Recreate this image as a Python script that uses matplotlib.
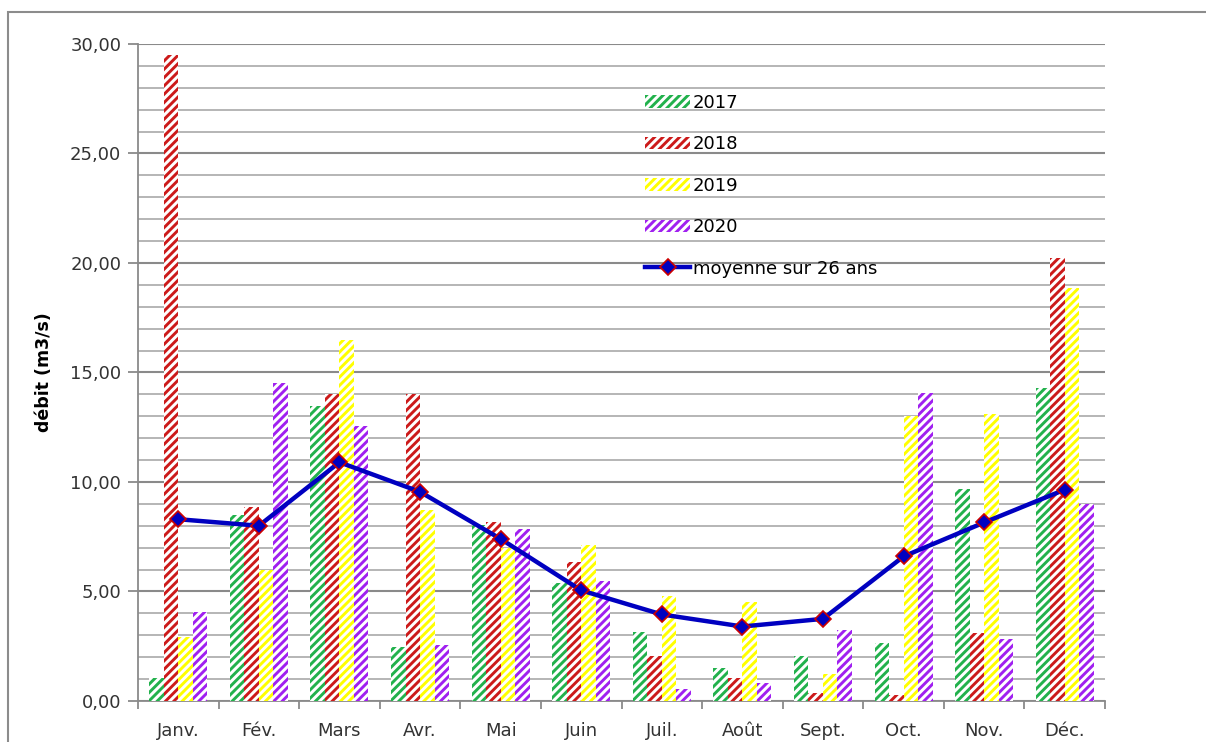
import matplotlib.pyplot as plt
import numpy as np
from matplotlib.patches import Rectangle
from matplotlib.ticker import MultipleLocator, FuncFormatter

plt.rcParams['font.family'] = ['DejaVu Sans']
plt.rcParams['hatch.linewidth'] = 2.1

# Data
months = ['Janv.', 'Fév.', 'Mars', 'Avr.', 'Mai', 'Juin', 'Juil.', 'Août', 'Sept.', 'Oct.', 'Nov.', 'Déc.']
debit_2017 = [1.05, 8.5, 13.45, 2.45, 8.05, 5.4, 3.15, 1.5, 2.05, 2.65, 9.7, 14.3]
debit_2018 = [29.5, 8.85, 14.0, 14.0, 8.15, 6.35, 2.05, 1.05, 0.35, 0.25, 3.1, 20.25]
debit_2019 = [2.9, 6.0, 16.5, 8.7, 7.0, 7.1, 4.8, 4.5, 1.25, 13.0, 13.1, 18.85]
debit_2020 = [4.05, 14.5, 12.55, 2.55, 7.85, 5.5, 0.55, 0.8, 3.25, 14.05, 2.85, 9.0]
moyenne = [8.3, 8.0, 10.9, 9.55, 7.4, 5.05, 3.95, 3.4, 3.75, 6.6, 8.15, 9.65]

series = [('2017', debit_2017, '#22b14c'),
          ('2018', debit_2018, '#cc1a1a'),
          ('2019', debit_2019, '#ffff00'),
          ('2020', debit_2020, '#a020f0')]

fig = plt.figure(figsize=(12.06, 7.42), dpi=100)
ax = fig.add_axes([0.1144, 0.0553, 0.8019, 0.8854])

# outer chart frame
fig.add_artist(Rectangle((8 / 1206, -0.01), 1.2, 1 - 12 / 742 + 0.01, transform=fig.transFigure,
                         fill=False, edgecolor='#8c8c8c', linewidth=1.5))

x = np.arange(len(months))
w = 0.18
handles = []
for i, (name, vals, col) in enumerate(series):
    b = ax.bar(x + (i - 1.5) * w, vals, width=w, facecolor='white', edgecolor=col,
               hatch='////', linewidth=0, label=name, zorder=3)
    handles.append(b)

ln, = ax.plot(x, moyenne, color='#0000c0', linewidth=3.2, marker='D', markersize=8,
              markerfacecolor='#0000c0', markeredgecolor='#cc0000', markeredgewidth=1.2,
              label='moyenne sur 26 ans', zorder=4)
handles.append(ln)

ax.set_xlim(-0.5, 11.5)
ax.set_ylim(0, 30)
ax.yaxis.set_major_locator(MultipleLocator(5))
ax.yaxis.set_minor_locator(MultipleLocator(1))
ax.yaxis.set_major_formatter(FuncFormatter(lambda v, p: f'{v:.2f}'.replace('.', ',')))
ax.grid(which='major', axis='y', color='#8a8a8a', linewidth=1.5, zorder=0)
ax.grid(which='minor', axis='y', color='#b0b0b0', linewidth=1.3, zorder=0)
ax.set_axisbelow(True)

ax.set_xticks(x)
ax.set_xticklabels(months, fontsize=13, color='#333333')
ax.set_xticks(np.arange(-0.5, 12, 1), minor=True)
ax.tick_params(axis='x', which='major', length=0, pad=15)
ax.tick_params(axis='x', which='minor', length=6, color='#8a8a8a', width=1.3)
ax.tick_params(axis='y', which='major', labelsize=13, labelcolor='#333333', length=7,
               color='#8a8a8a', width=1.3, pad=5)
ax.tick_params(axis='y', which='minor', length=0)

for s in ['top', 'right']:
    ax.spines[s].set_visible(False)
for s in ['left', 'bottom']:
    ax.spines[s].set_color('#8a8a8a')
    ax.spines[s].set_linewidth(1.3)

ax.set_ylabel('débit (m3/s)', fontsize=12.5, fontweight='bold', labelpad=12)

leg = ax.legend(handles=handles, loc='upper left', bbox_to_anchor=(0.517, 0.935), frameon=False,
                fontsize=13, labelspacing=1.3, handlelength=2.5, handleheight=0.7,
                handletextpad=0.15, borderaxespad=0)

plt.savefig('out.png', dpi=100)
